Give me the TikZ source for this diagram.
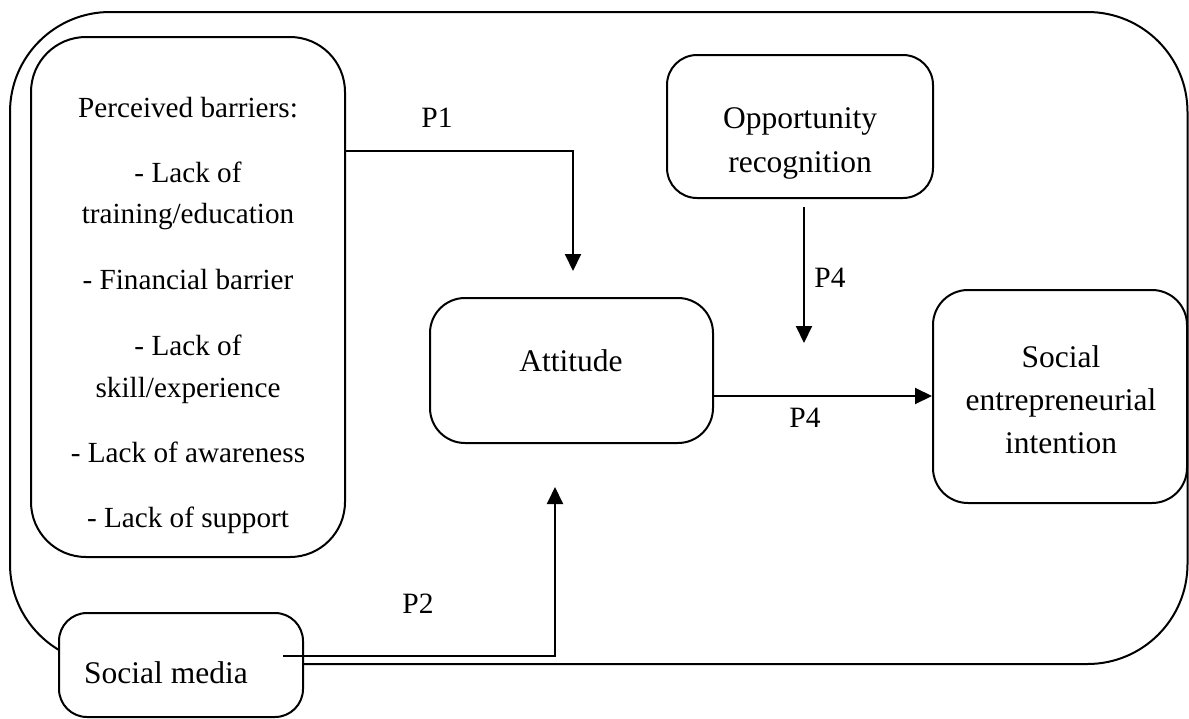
\documentclass[tikz,border=0pt]{standalone}
\usepackage{fontspec}
\setmainfont{Liberation Serif}
\usetikzlibrary{arrows.meta}
\begin{document}
\begin{tikzpicture}[x=1pt,y=-1pt, line width=2pt,
  box/.style={draw, rounded corners=#1, fill=white, inner sep=0pt, line width=2pt},
  big/.style={font=\fontsize{31.5}{41}\selectfont, inner sep=0pt, anchor=base},
  small/.style={font=\fontsize{29.2}{40}\selectfont, inner sep=0pt, anchor=base},
  lab/.style={font=\fontsize{29.5}{40}\selectfont, inner sep=0pt, anchor=base},
  arr/.style={-{Triangle[width=16pt,length=17pt]}, line width=2pt}]
\useasboundingbox (0,0) rectangle (1189,718);
% outer frame
\draw[rounded corners=100pt] (10,12) rectangle (1187.5,664);
% perceived barriers
\node[box=55pt, minimum width=314pt, minimum height=520pt] (pb) at (188,297) {};
\foreach \t/\b [count=\i] in {{Perceived barriers:}/117, {- Lack of}/182, {training/education}/223, {- Financial barrier}/289, {- Lack of}/355, {skill/experience}/397, {- Lack of awareness}/462, {- Lack of support}/527}
  \node[small] (pbt\i) at (188,\b) {\t};
% opportunity recognition
\node[box=30pt, minimum width=266pt, minimum height=143pt] (opp) at (800,126.5) {};
\node[big] (oppt1) at (800,128) {Opportunity};
\node[big] (oppt2) at (800,172) {recognition};
% attitude
\node[box=35pt, minimum width=283pt, minimum height=145pt] (att) at (571.5,370.5) {};
\node[big] (attt) at (571,371) {Attitude};
% social entrepreneurial intention
\node[box=35pt, minimum width=254pt, minimum height=213pt] (sei) at (1060,396.5) {};
\node[big] (seit1) at (1061,367) {Social};
\node[big] (seit2) at (1061,410) {entrepreneurial};
\node[big] (seit3) at (1061,453) {intention};
% social media
\node[box=28pt, minimum width=244pt, minimum height=104pt] (sm) at (181,665) {};
\node[big] (smt) at (166,683) {Social media};
% connectors
\coordinate (p1e) at (573,271);
\draw[arr] (pb.east |- 0,151) -| (p1e);
\coordinate (o1) at (804,207);
\coordinate (o2) at (804,343);
\draw[arr] (o1) -- (o2);
\draw[arr] (att.east |- 0,396) -- (sei.west |- 0,396);
\coordinate (s1) at (283,656);
\coordinate (s2) at (555,487);
\draw[arr] (s1) -| (s2);
% labels
\node[lab] (lp1) at (437,127) {P1};
\node[lab] (lp4a) at (830,287) {P4};
\node[lab] (lp4b) at (805,427) {P4};
\node[lab] (lp2) at (418,613) {P2};
\end{tikzpicture}
\end{document}
